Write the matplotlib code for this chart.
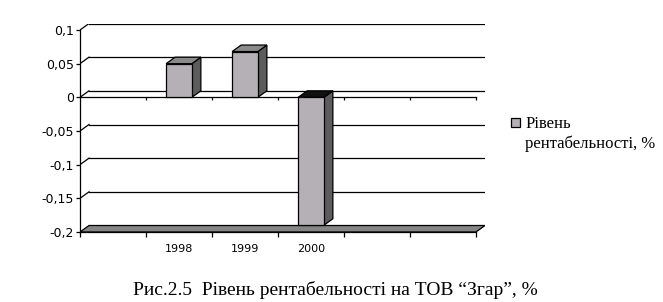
import numpy as np
import matplotlib
matplotlib.use('Agg')
import matplotlib.pyplot as plt
from matplotlib.patches import Polygon, Rectangle

# --- дані ---
categories = ['', '1998', '1999', '2000', '', '']
values = [np.nan, 0.05, 0.068, -0.19, np.nan, np.nan]
y_ticks = [-0.2, -0.15, -0.1, -0.05, 0, 0.05, 0.1]
y_tick_labels = ['-0,2', '-0,15', '-0,1', '-0,05', '0', '0,05', '0,1']
legend_label = 'Рівень\nрентабельності, %'
caption = 'Рис.2.5  Рівень рентабельності на ТОВ “Згар”, %'

# --- кольори ---
c_front = '#b5b0b5'
c_side = '#5c5c5c'
c_top = '#8a8a8a'
c_floor = '#858585'

W, H = 663, 302
fig = plt.figure(figsize=(W / 100, H / 100), dpi=100)

# глибина псевдо-3D (в пікселях)
dx_px, dy_px = 9, 6.5
left_px, right_px, top_px, bottom_px = 80, 485, 30 - dy_px, 232
ax = fig.add_axes([left_px / W, 1 - bottom_px / H,
                   (right_px - left_px) / W, (bottom_px - top_px) / H])

n = len(categories)
ymin, ymax = y_ticks[0], y_ticks[-1]
px_per_x = (476 - 80) / n
px_per_y = (bottom_px - 30) / (ymax - ymin)
dx = dx_px / px_per_x
dy = dy_px / px_per_y

ax.set_xlim(0, n + dx)
ax.set_ylim(ymin, ymax + dy)
ax.patch.set_visible(False)

lw = 0.9
# задня стінка: лінії сітки
for v in y_ticks[1:]:
    ax.plot([dx, n + dx], [v + dy, v + dy], color='black', lw=lw, zorder=1)
    ax.plot([0, dx], [v, v + dy], color='black', lw=lw, zorder=1)

# підлога
floor = Polygon([(0, ymin), (n, ymin), (n + dx, ymin + dy), (dx, ymin + dy)],
                closed=True, facecolor=c_floor, edgecolor='black', lw=lw, zorder=2)
ax.add_patch(floor)

# передня лінія нуля з поділками
ax.plot([0, n], [0, 0], color='black', lw=lw, zorder=2)
tick_len = 3 / px_per_y
ax.vlines(np.arange(1, n + 1), -tick_len, 0, color='black', lw=lw, zorder=2)

# стовпчики
bw = 0.39
for i, v in enumerate(values):
    if np.isnan(v):
        continue
    x0 = i + 0.5 - bw / 2
    x1 = x0 + bw
    lo, hi = min(0, v), max(0, v)
    side = Polygon([(x1, lo), (x1 + dx, lo + dy), (x1 + dx, hi + dy), (x1, hi)],
                   closed=True, facecolor=c_side, edgecolor='black', lw=lw, zorder=4)
    top_col = c_top if v > 0 else '#111111'
    top = Polygon([(x0, hi), (x1, hi), (x1 + dx, hi + dy), (x0 + dx, hi + dy)],
                  closed=True, facecolor=top_col, edgecolor='black', lw=lw, zorder=4)
    front = Rectangle((x0, lo), bw, hi - lo, facecolor=c_front,
                      edgecolor='black', lw=lw, zorder=5)
    ax.add_patch(side)
    ax.add_patch(top)
    ax.add_patch(front)

# осі
for s in ['top', 'right']:
    ax.spines[s].set_visible(False)
ax.spines['left'].set_bounds(ymin, ymax)
ax.spines['bottom'].set_bounds(0, n)
ax.spines['left'].set_linewidth(lw)
ax.spines['bottom'].set_linewidth(lw)
ax.spines['left'].set_zorder(6)
ax.spines['bottom'].set_zorder(6)

ax.set_yticks(y_ticks)
ax.set_yticklabels(y_tick_labels, fontsize=9, family='DejaVu Sans')
ax.tick_params(axis='y', direction='out', length=3, width=lw, pad=1.5)

ax.set_xticks(np.arange(0, n + 1))
ax.set_xticklabels([])
ax.tick_params(axis='x', which='major', direction='out', length=3.5, width=lw)
ax.set_xticks(np.arange(n) + 0.5, minor=True)
ax.set_xticklabels(categories, minor=True, fontsize=8, family='DejaVu Sans')
ax.tick_params(axis='x', which='minor', length=0, pad=8.5)

# легенда
fig.patches.append(Rectangle((511 / W, 1 - 127 / H), 9 / W, 9.5 / H,
                             transform=fig.transFigure, facecolor=c_front,
                             edgecolor='black', lw=lw))
lines = legend_label.split('\n')
fig.text(526 / W, 1 - 128.5 / H, lines[0], fontsize=12,
         family='Liberation Serif', va='baseline', ha='left')
fig.text(525 / W, 1 - 148 / H, lines[1], fontsize=12,
         family='Liberation Serif', va='baseline', ha='left')

# підпис
fig.text(335 / W, 1 - 295 / H, caption, fontsize=14,
         family='Liberation Serif', va='baseline', ha='center')

fig.savefig('out.png', dpi=100)
